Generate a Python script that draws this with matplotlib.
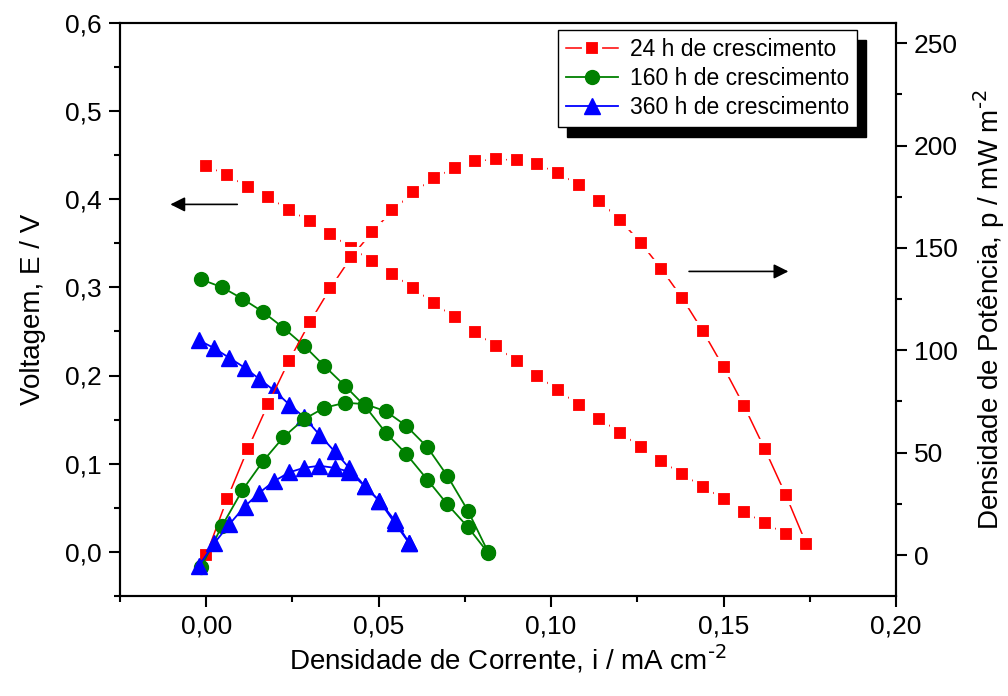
import numpy as np
import matplotlib.pyplot as plt
from matplotlib.patches import Rectangle
from matplotlib.ticker import MultipleLocator, FuncFormatter
from matplotlib.transforms import IdentityTransform

plt.rcParams['font.family'] = ['Liberation Sans', 'DejaVu Sans']
plt.rcParams['mathtext.default'] = 'regular'

# 24 h de crescimento
i_24 = [0.000, 0.006, 0.012, 0.018, 0.024, 0.030, 0.036, 0.042, 0.048, 0.054,
        0.060, 0.066, 0.072, 0.078, 0.084, 0.090, 0.096, 0.102, 0.108, 0.114,
        0.120, 0.126, 0.132, 0.138, 0.144, 0.150, 0.156, 0.162, 0.168, 0.174]
E_24 = [0.438, 0.427, 0.414, 0.402, 0.388, 0.375, 0.360, 0.345, 0.330, 0.315,
        0.299, 0.282, 0.266, 0.249, 0.233, 0.216, 0.200, 0.183, 0.167, 0.151,
        0.135, 0.119, 0.103, 0.088, 0.074, 0.060, 0.045, 0.033, 0.020, 0.009]
p_24 = [0.0, 27.2, 51.6, 74.0, 94.9, 113.6, 130.4, 145.4, 157.6, 168.3,
        177.2, 184.0, 189.2, 192.3, 193.4, 192.8, 190.8, 186.6, 180.7, 172.9,
        163.6, 152.5, 139.7, 125.5, 109.4, 91.7, 72.6, 51.6, 29.5, 5.4]

# 160 h de crescimento
i_160 = [-0.0015, 0.0046, 0.0105, 0.0165, 0.0224, 0.0283, 0.0342, 0.0403,
         0.0461, 0.0521, 0.0580, 0.0641, 0.0699, 0.0759, 0.0817]
E_160 = [0.309, 0.300, 0.287, 0.272, 0.254, 0.234, 0.211, 0.188,
         0.165, 0.135, 0.111, 0.082, 0.054, 0.028, -0.001]
p_160 = [-6.0, 14.3, 31.7, 45.9, 57.6, 66.3, 71.9, 74.4,
         73.7, 70.2, 63.1, 52.7, 38.7, 21.6, 1.6]

# 360 h de crescimento
i_360 = [-0.0021, 0.0023, 0.0067, 0.0111, 0.0154, 0.0197, 0.0241, 0.0283,
         0.0328, 0.0372, 0.0415, 0.0459, 0.0502, 0.0546, 0.0589]
E_360 = [0.240, 0.231, 0.220, 0.209, 0.196, 0.183, 0.167, 0.153,
         0.133, 0.114, 0.095, 0.075, 0.058, 0.036, 0.010]
p_360 = [-5.2, 5.7, 15.0, 23.6, 30.4, 36.1, 40.4, 42.6,
         43.6, 42.6, 40.7, 33.7, 26.4, 15.8, 5.7]

labels = ['24 h de crescimento', '160 h de crescimento', '360 h de crescimento']

#--------------------------------------------------
def comma(fmt):
    return FuncFormatter(lambda v, pos: (fmt % v).replace('.', ','))
#--------------------------------------------------

fig = plt.figure(figsize=(10.08, 6.96), dpi=100)
ax1 = fig.add_axes([120/1008, 100/696, 776/1008, 573.3/696])
ax2 = ax1.twinx()

red = dict(color='red', marker='s', ms=12, mfc='red', mec='white', mew=3, lw=1.1)
green = dict(color='green', marker='o', ms=10, mec='green', lw=1.3)
blue = dict(color='blue', marker='^', ms=11, mec='blue', lw=1.3)

h1, = ax1.plot(i_24, E_24, label=labels[0], **red)
h2, = ax1.plot(i_160, E_160, label=labels[1], **green)
h3, = ax1.plot(i_360, E_360, label=labels[2], **blue)
ax2.plot(i_24, p_24, **red)
ax2.plot(i_160, p_160, **green)
ax2.plot(i_360, p_360, **blue)

ax1.set_xlim(-0.025, 0.20)
ax1.set_ylim(-0.05, 0.6)
ax2.set_ylim(-20, 260)

ax1.set_xticks([0.0, 0.05, 0.10, 0.15, 0.20])
ax1.xaxis.set_major_formatter(comma('%.2f'))
ax1.xaxis.set_minor_locator(MultipleLocator(0.025))
ax1.set_yticks([0.0, 0.1, 0.2, 0.3, 0.4, 0.5, 0.6])
ax1.yaxis.set_major_formatter(comma('%.1f'))
ax1.yaxis.set_minor_locator(MultipleLocator(0.05))
ax2.set_yticks([0, 50, 100, 150, 200, 250])
ax2.yaxis.set_minor_locator(MultipleLocator(25))

for ax in (ax1, ax2):
    ax.tick_params(which='major', direction='out', length=8, width=1.5, labelsize=19, pad=5)
    ax.tick_params(which='minor', direction='out', length=4, width=1.5)
    for s in ax.spines.values():
        s.set_linewidth(1.5)

ax1.set_xlabel(r'Densidade de Corrente, i / mA cm$^{\text{-2}}$', fontsize=20, labelpad=4)
ax1.set_ylabel('Voltagem, E / V', fontsize=20, labelpad=14)
ax2.set_ylabel(r'Densidade de Potência, p / mW m$^{\text{-2}}$', fontsize=20, labelpad=10)

# arrows pointing at each axis
arrow = dict(arrowstyle='-|>', color='black', lw=1.2, mutation_scale=22, shrinkA=0, shrinkB=0)
ax1.annotate('', xy=(-0.0104, 0.394), xytext=(0.009, 0.394), arrowprops=arrow)
ax1.annotate('', xy=(0.1688, 0.318), xytext=(0.140, 0.318), arrowprops=arrow)

leg = ax2.legend([h1, h2, h3], labels, loc='upper left', bbox_to_anchor=(0.564, 0.987),
                 borderaxespad=0, fontsize=16.5, fancybox=False, framealpha=1,
                 edgecolor='black', handlelength=2.3, handletextpad=0.5,
                 labelspacing=0.25, borderpad=0.35)
leg.get_frame().set_linewidth(1.0)

# black drop shadow behind the legend box
fig.canvas.draw()
bb = leg.get_frame().get_window_extent()
ax2.add_patch(Rectangle((bb.x0 + 9, bb.y0 - 10), bb.width, bb.height, color='black',
                        transform=IdentityTransform(), zorder=4.9, clip_on=False))

fig.savefig('out.png', dpi=100)
